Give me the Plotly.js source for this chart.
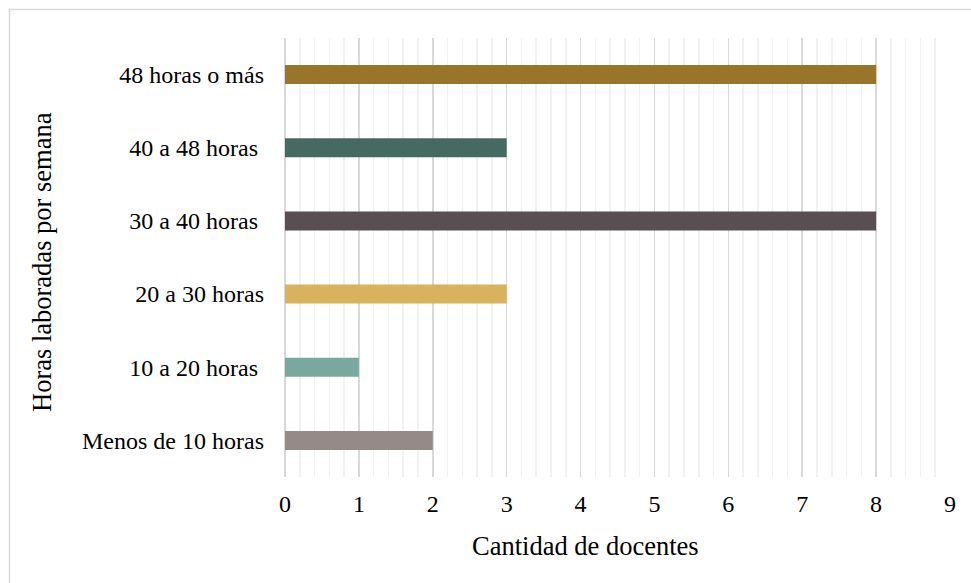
<!DOCTYPE html>
<html>
<head>
<meta charset="utf-8">
<script src="https://cdn.plot.ly/plotly-3.0.1.min.js"></script>
<style>html,body{margin:0;padding:0;background:#fff;}#chart{width:971px;height:583px;}</style>
</head>
<body>
<div id="chart"></div>
<script>
const categories = ["Menos de 10 horas", "10 a 20 horas\u00A0", "20 a 30 horas", "30 a 40 horas\u00A0", "40 a 48 horas\u00A0", "48 horas o más"];
const values = [2, 1, 3, 8, 3, 8];
const barColors = ["#968A89", "#7BA89E", "#D9B25E", "#594F52", "#466A62", "#98752A"];
const xTickValues = [0, 1, 2, 3, 4, 5, 6, 7, 8, 9];
const xTitle = "Cantidad de docentes";
const yTitle = "Horas laboradas por semana";

const L = 285, R = 950, T = 38, B = 477;
const px = v => (v - L) / (R - L);
const py = v => (B - v) / (B - T);
const FONT = "Liberation Serif, Times New Roman, serif";

const trace = {
  type: "bar",
  orientation: "h",
  y: categories,
  x: values,
  width: 0.26,
  marker: {color: barColors, line: {width: 0}},
  hoverinfo: "x+y"
};

const layout = {
  width: 971, height: 583,
  margin: {l: L, r: 971 - R, t: T, b: 583 - B},
  paper_bgcolor: "#ffffff",
  plot_bgcolor: "#ffffff",
  showlegend: false,
  font: {family: FONT, color: "#000000", size: 24},
  xaxis: {
    range: [0, 9],
    tickvals: xTickValues,
    ticktext: xTickValues.map(String),
    showgrid: true,
    gridcolor: "#D9D9D9",
    gridwidth: 1.5,
    zeroline: true,
    zerolinecolor: "#D9D9D9",
    zerolinewidth: 1.5,
    showline: false,
    ticks: "",
    ticklabelstandoff: 10,
    tickfont: {family: FONT, size: 24, color: "#000"},
    minor: {dtick: 0.2, showgrid: true, gridcolor: "#F2F2F2", gridwidth: 1.5, ticks: ""},
    automargin: false,
    fixedrange: true
  },
  yaxis: {
    type: "category",
    categoryorder: "array",
    categoryarray: categories,
    range: [-0.5, 5.5],
    showgrid: false,
    zeroline: false,
    showline: false,
    ticks: "",
    ticklabelstandoff: 20,
    tickfont: {family: FONT, size: 24, color: "#000"},
    automargin: false,
    fixedrange: true
  },
  annotations: [
    {text: xTitle, xref: "paper", yref: "paper", x: px(585), y: py(546),
     xanchor: "center", yanchor: "middle", showarrow: false,
     font: {family: FONT, size: 26.5, color: "#000"}},
    {text: yTitle, xref: "paper", yref: "paper", x: px(42), y: py(262),
     xanchor: "center", yanchor: "middle", showarrow: false, textangle: -90,
     font: {family: FONT, size: 26.5, color: "#000"}}
  ],
  shapes: [{
    type: "rect", xref: "paper", yref: "paper",
    x0: px(9.5), x1: px(990), y0: py(620), y1: py(9.5),
    line: {color: "#D9D9D9", width: 1.5},
    fillcolor: "rgba(0,0,0,0)",
    layer: "below"
  }]
};

Plotly.newPlot("chart", [trace], layout, {displayModeBar: false, staticPlot: true});
</script>
</body>
</html>
